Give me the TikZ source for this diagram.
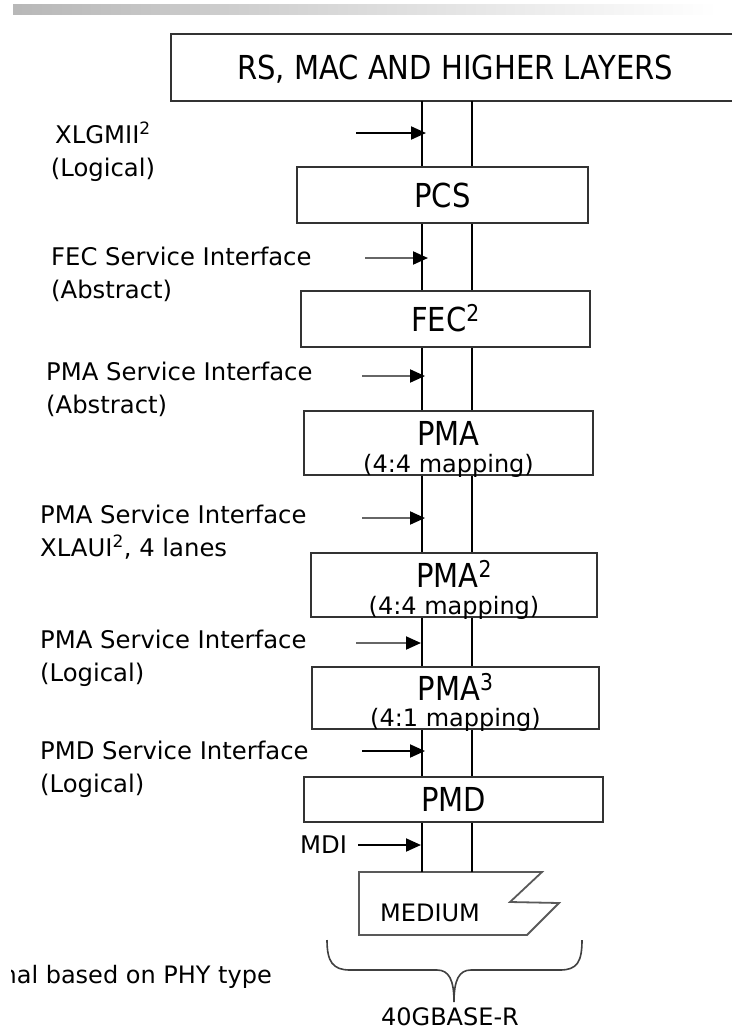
\documentclass[tikz,border=0pt]{standalone}
\usepackage{fontspec}
\setmainfont{DejaVu Sans}
\newfontfamily\boxfont[FakeStretch=0.88]{DejaVu Sans}
\usetikzlibrary{arrows.meta}
\begin{document}
\begin{tikzpicture}[x=1pt,y=-1pt,
  frame/.style={draw=black!80, line width=2pt},
  layer/.style={frame, inner sep=0pt, font=\boxfont\fontsize{33}{36}\selectfont,
                text height=24pt, text depth=0pt},
  title/.style={inner sep=0pt, font=\boxfont\fontsize{33}{36}\selectfont,
                text height=24pt, text depth=0pt},
  sub/.style={inner sep=0pt, font=\fontsize{24}{28}\selectfont},
  lbl/.style={inner sep=0pt, font=\fontsize{24.3}{33}\selectfont, align=left},
  bus/.style={draw=black, line width=2pt},
  iface/.style={line width=2pt, draw=black!60,
                -{Triangle[length=15pt 0 0,width=13pt 0 0,color=black]}},
  ifaceblack/.style={iface, draw=black}]
\useasboundingbox (0,0) rectangle (732,1031);

% fading rule across the top
\shade[left color=black!28, right color=white] (13,4) rectangle (717,14);

% page edge and bus lanes
\coordinate (edge) at (732,0);
\coordinate (L) at (422,0);
\coordinate (R) at (472,0);

% upper layers box, open towards the right edge
\node[title, minimum width=568pt, minimum height=67pt] (rs) at (455,67.5)
  {RS, MAC AND HIGHER LAYERS};
\draw[frame] (rs.north -| edge) -- (rs.north west) -- (rs.south west) -- (rs.south -| edge);

% sublayer boxes
\node[layer, minimum width=291pt, minimum height=56pt] (pcs) at (442.5,195) {PCS};
\node[layer, minimum width=289pt, minimum height=56pt] (fec) at (445.5,319) {FEC\textsuperscript{2}};
\node[frame, minimum width=289pt, minimum height=64pt, inner sep=0pt] (pma) at (448.5,443) {};
\node[title] (pmat) at (448.5,433) {PMA};
\node[sub] (pmas) at (448.5,466) {(4:4 mapping)};
\node[frame, minimum width=286pt, minimum height=64pt, inner sep=0pt] (pmb) at (454,585) {};
\node[title] (pmbt) at (454,575) {PMA\textsuperscript{2}};
\node[sub] (pmbs) at (454,608) {(4:4 mapping)};
\node[frame, minimum width=287pt, minimum height=62pt, inner sep=0pt] (pmc) at (455.5,698) {};
\node[title] (pmct) at (455.5,688) {PMA\textsuperscript{3}};
\node[sub] (pmcs) at (455.5,720) {(4:1 mapping)};
\node[layer, minimum width=299pt, minimum height=45pt] (pmd) at (453.5,799.5) {PMD};

% medium
\coordinate (medtop) at (450,872);
\draw[draw=black!65, line width=1.8pt]
  (359,872) -- (542,872) -- (510,902) -- (559,903) -- (527,935) -- (359,935) -- cycle;
\node[sub] (medium) at (430,913) {MEDIUM};

% bus lanes between the layers
\foreach \lane in {L,R} {
  \draw[bus] (rs.south -| \lane) -- (pcs.north -| \lane);
  \draw[bus] (pcs.south -| \lane) -- (fec.north -| \lane);
  \draw[bus] (fec.south -| \lane) -- (pma.north -| \lane);
  \draw[bus] (pma.south -| \lane) -- (pmb.north -| \lane);
  \draw[bus] (pmb.south -| \lane) -- (pmc.north -| \lane);
  \draw[bus] (pmc.south -| \lane) -- (pmd.north -| \lane);
  \draw[bus] (pmd.south -| \lane) -- (medtop -| \lane);
}

% interface labels
\node[lbl, align=center, anchor=north] (xlgmii) at (103,122) {XLGMII\textsuperscript{2}\\(Logical)};
\node[lbl, anchor=north west] (fecsi) at (51,247) {FEC Service Interface\\(Abstract)};
\node[lbl, anchor=north west] (pmasi) at (46,362) {PMA Service Interface\\(Abstract)};
\node[lbl, anchor=north west] (xlaui) at (40,505) {PMA Service Interface\\XLAUI\textsuperscript{2}, 4 lanes};
\node[lbl, anchor=north west] (pmasl) at (40,630) {PMA Service Interface\\(Logical)};
\node[lbl, anchor=north west] (pmdsi) at (40,741) {PMD Service Interface\\(Logical)};
\node[lbl, anchor=west] (mdi) at (300,845) {MDI};

% interface arrows
\coordinate (a1s) at (356,133); \coordinate (a1e) at (426,133);
\coordinate (a2s) at (365,258); \coordinate (a2e) at (428,258);
\coordinate (a3s) at (362,376); \coordinate (a3e) at (425,376);
\coordinate (a4s) at (362,518); \coordinate (a4e) at (425,518);
\coordinate (a5s) at (356,643); \coordinate (a5e) at (421,643);
\coordinate (a6s) at (362,751); \coordinate (a6e) at (425,751);
\coordinate (a7s) at (358,845); \coordinate (a7e) at (421,845);
\draw[ifaceblack] (a1s) -- (a1e);
\draw[iface] (a2s) -- (a2e);
\draw[iface] (a3s) -- (a3e);
\draw[iface] (a4s) -- (a4e);
\draw[iface] (a5s) -- (a5e);
\draw[ifaceblack] (a6s) -- (a6e);
\draw[ifaceblack] (a7s) -- (a7e);

% brace under the stack
\draw[draw=black!75, line width=1.6pt]
  (327,940) .. controls (327,962) and (333,970) .. (350,970) -- (437,970)
  .. controls (449,970) and (454,980) .. (454,1002)
  .. controls (454,980) and (459,970) .. (471,970) -- (560,970)
  .. controls (577,970) and (582,962) .. (582,940);
\node[sub] (phy) at (450,1017) {40GBASE-R};

% footnote, cut at the left margin
\begin{scope}
  \clip (11,950) rectangle (320,1000);
  \node[sub, anchor=east] (note) at (272,977) {Conditional based on PHY type};
\end{scope}
\end{tikzpicture}
\end{document}
